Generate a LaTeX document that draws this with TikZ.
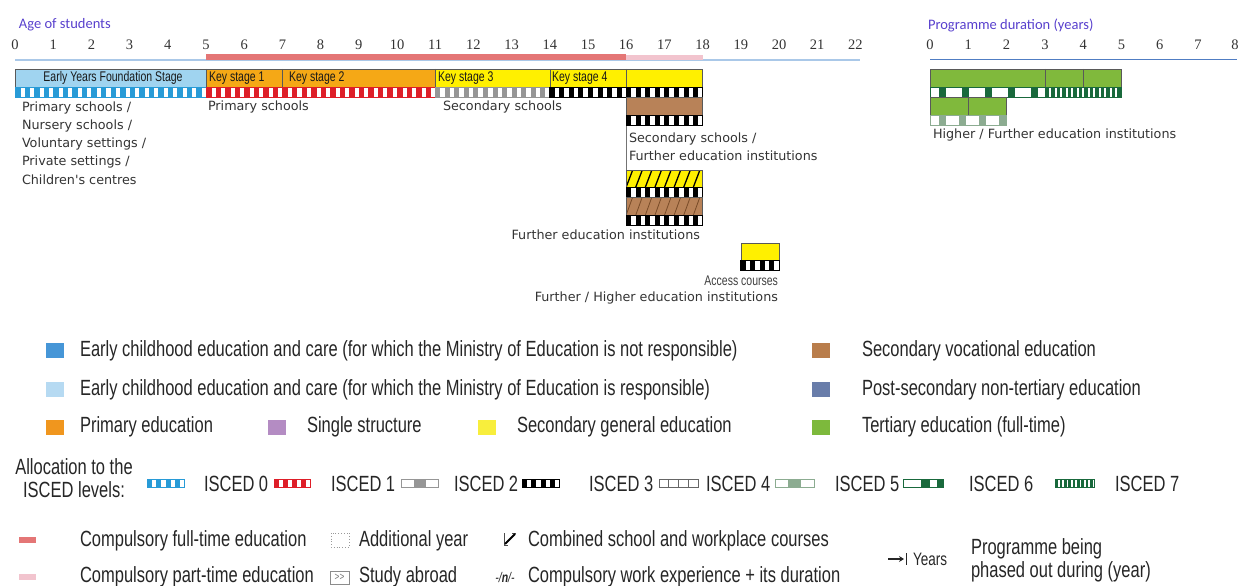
\documentclass[tikz,border=0pt]{standalone}
\usepackage{fontspec}
\setmainfont{DejaVu Sans}
\newfontfamily\schoolfont[Ligatures=TeXOff]{DejaVu Sans}
\newfontfamily\narrowfont[FakeStretch=0.75]{Liberation Sans}
\newfontfamily\calfont{Carlito}
\newfontfamily\numfont{Liberation Serif}
\usetikzlibrary{arrows.meta}
\definecolor{axispurple}{RGB}{88,64,205}
\definecolor{axisblue}{RGB}{170,200,232}
\definecolor{progblue}{RGB}{80,125,195}
\definecolor{compred}{RGB}{228,118,118}
\definecolor{comppink}{RGB}{242,196,206}
\definecolor{eyfs}{RGB}{160,212,240}
\definecolor{prim}{RGB}{245,168,22}
\definecolor{secgen}{RGB}{255,240,0}
\definecolor{voc}{RGB}{184,130,88}
\definecolor{vocline}{RGB}{120,75,40}
\definecolor{tert}{RGB}{128,185,60}
\definecolor{isczero}{RGB}{40,155,215}
\definecolor{iscone}{RGB}{222,30,40}
\definecolor{isctwo}{RGB}{150,150,150}
\definecolor{iscfive}{RGB}{140,172,145}
\definecolor{iscsix}{RGB}{25,105,60}
\definecolor{legA}{RGB}{70,150,215}
\definecolor{legB}{RGB}{182,218,242}
\definecolor{legC}{RGB}{240,150,30}
\definecolor{legD}{RGB}{180,140,195}
\definecolor{legE}{RGB}{248,238,60}
\definecolor{legF}{RGB}{185,125,75}
\definecolor{legG}{RGB}{105,125,170}
\definecolor{legH}{RGB}{125,185,60}
% checkered ISCED stripe: x1,x2,ytop,height,colour,period,block width,offset
\newcommand\chk[8]{%
  \begin{scope}
    \clip (#1,#3) rectangle (#2,#3+#4);
    \fill[white] (#1,#3) rectangle (#2,#3+#4);
    \pgfmathtruncatemacro\nk{(#2-#1)/#6+1}
    \foreach \k in {0,...,\nk}{\fill[#5] ({#1+#8+\k*#6},#3) rectangle ({#1+#8+\k*#6+#7},#3+#4);}
  \end{scope}
  \draw[#5,line width=0.8] (#1,#3) rectangle (#2,#3+#4);}
% hatching: x1,x2,ytop,height,colour,line width
\newcommand\hatchbox[6]{%
  \begin{scope}
    \clip (#1,#3) rectangle (#2,#3+#4);
    \foreach \k in {-1,...,9}{\draw[#5,line width=#6] ({#1+\k*9.6},#3+#4) -- ({#1+\k*9.6+6.5},#3);}
  \end{scope}}
\begin{document}
\begin{tikzpicture}[x=1pt,y=-1pt,every node/.style={inner sep=0pt,outer sep=0pt},
  ticklab/.style={font=\numfont\fontsize{14.5}{14.5}\selectfont,text=black!80},
  axtitle/.style={font=\calfont\fontsize{14.5}{15}\selectfont,text=axispurple,anchor=west},
  school/.style={font=\schoolfont\fontsize{12.75}{18.2}\selectfont,text=black!80,align=left},
  ksl/.style={font=\narrowfont\fontsize{14}{14}\selectfont,text=black!90},
  leg/.style={font=\narrowfont\fontsize{22}{23}\selectfont,text=black!85,anchor=west},
  barline/.style={draw=black!65,line width=0.6}]
\useasboundingbox (0,0) rectangle (1240,586);
% ---------- age axis ----------
\node[axtitle] (agetitle) at (19,25) {Age of students};
\foreach \k in {0,...,22}{\node[ticklab] (ta\k) at ({15+38.2*\k},45) {\k};}
\draw[axisblue,line width=2] (15,60.5) -- (860,60.5);
\fill[compred] (206,54) rectangle (626.2,60);
\fill[comppink] (626.2,55) rectangle (702.6,60);
% ---------- programme axis ----------
\node[axtitle] (progtitle) at (928,25) {Programme duration (years)};
\foreach \k in {0,...,7}{\node[ticklab] (tb\k) at ({930+38.3*\k},45) {\k};}
\node[ticklab] (tb8) at (1235,45) {8};
\draw[progblue,line width=0.9] (930,59) -- (1237,59);
% ---------- main bars ----------
\fill[eyfs] (15,69) rectangle (206,87);
\fill[prim] (206,69) rectangle (435.2,87);
\fill[secgen] (435.2,69) rectangle (702.6,87);
\draw[barline] (15,69) rectangle (702.6,87);
\foreach \xx in {206,282.4,435.2,549.8,626.2}{\draw[barline] (\xx,69) -- (\xx,87);}
\node[ksl] (eyfslab) at (113,78) {Early Years Foundation Stage};
\node[ksl,anchor=west] (ks1) at (209,78) {Key stage 1};
\node[ksl,anchor=west] (ks2) at (289,78) {Key stage 2};
\node[ksl,anchor=west] (ks3) at (438,78) {Key stage 3};
\node[ksl,anchor=west] (ks4) at (552,78) {Key stage 4};
\chk{15}{206}{87}{10}{isczero}{9.55}{5.5}{0}
\chk{206}{435.2}{87}{10}{iscone}{9.55}{5.5}{0}
\chk{435.2}{549.8}{87}{10}{isctwo}{9.55}{5}{0}
\chk{549.8}{702.6}{87}{10}{black}{9.55}{5}{0}
\node[school,anchor=west] (lab0) at (22,143) {Primary schools /\\Nursery schools /\\Voluntary settings /\\Private settings /\\Children's centres};
\node[school,anchor=west] (lab1) at (208,107) {Primary schools};
\node[school,anchor=west] (lab2) at (443,107) {Secondary schools};
% ---------- upper secondary / FE ----------
\draw[black!55,line width=0.6] (626.2,97) -- (626.2,225);
\fill[voc] (626.2,97) rectangle (702.6,115);
\draw[barline] (626.2,97) rectangle (702.6,115);
\chk{626.2}{702.6}{115}{10}{black}{9.55}{5}{0}
\node[school,anchor=west] (lab3) at (629,147) {Secondary schools /\\Further education institutions};
\fill[secgen] (626.2,170) rectangle (702.6,187);
\hatchbox{626.2}{702.6}{170}{17}{black}{1.3}
\draw[barline] (626.2,170) rectangle (702.6,187);
\chk{626.2}{702.6}{187}{10}{black}{9.55}{5}{0}
\fill[voc] (626.2,197) rectangle (702.6,215);
\hatchbox{626.2}{702.6}{197}{18}{vocline}{0.8}
\draw[barline] (626.2,197) rectangle (702.6,215);
\chk{626.2}{702.6}{215}{10}{black}{9.55}{5}{0}
\node[school,anchor=east] (lab4) at (700,235) {Further education institutions};
\fill[secgen] (740.8,243) rectangle (779,260);
\draw[barline] (740.8,243) rectangle (779,260);
\chk{740.8}{779}{260}{10}{black}{9.55}{5}{0}
\node[ksl,anchor=east,text=black!75] (acc) at (778,281) {Access courses};
\node[school,anchor=east] (lab5) at (778,298) {Further / Higher education institutions};
% ---------- tertiary ----------
\fill[tert] (930,69) rectangle (1121.5,87);
\draw[barline] (930,69) rectangle (1121.5,87);
\foreach \xx in {1044.9,1083.2}{\draw[barline] (\xx,69) -- (\xx,87);}
\chk{930}{1044.9}{87}{10}{iscsix}{23}{7}{9}
\chk{1044.9}{1121.5}{87}{10}{iscsix}{5.5}{3.5}{1}
\fill[tert] (930,97) rectangle (1006.6,115);
\draw[barline] (930,97) rectangle (1006.6,115);
\draw[barline] (968.3,97) -- (968.3,115);
\chk{930}{1006.6}{115}{10}{iscfive}{20}{7}{9}
\node[school,anchor=west] (lab6) at (933,135) {Higher / Further education institutions};
% ---------- legend: colours ----------
\fill[legA] (46,343) rectangle (64,358);
\node[leg] (lA) at (80,351) {Early childhood education and care (for which the Ministry of Education is not responsible)};
\fill[legB] (46,382) rectangle (64,397);
\node[leg] (lB) at (80,390) {Early childhood education and care (for which the Ministry of Education is responsible)};
\fill[legC] (46,420) rectangle (64,435);
\node[leg] (lC) at (80,427) {Primary education};
\fill[legD] (268,420) rectangle (286,435);
\node[leg] (lD) at (307,427) {Single structure};
\fill[legE] (478,420) rectangle (496,435);
\node[leg] (lE) at (517,427) {Secondary general education};
\fill[legF] (812,343) rectangle (830,358);
\node[leg] (lF) at (862,351) {Secondary vocational education};
\fill[legG] (812,382) rectangle (830,397);
\node[leg] (lG) at (862,390) {Post-secondary non-tertiary education};
\fill[legH] (812,420) rectangle (830,435);
\node[leg] (lH) at (862,427) {Tertiary education (full-time)};
% ---------- legend: ISCED ----------
\node[leg,anchor=center,align=center] (alloc) at (74,478) {Allocation to the\\ISCED levels:};
\chk{147}{184}{479}{8}{isczero}{9.25}{5}{0}
\node[leg] (i0) at (204,484) {ISCED 0};
\chk{274}{310}{479}{8}{iscone}{9}{5}{0}
\node[leg] (i1) at (331,484) {ISCED 1};
\fill[white] (401,479) rectangle (438,487);
\fill[isctwo] (414,479) rectangle (426,487);
\draw[isctwo,line width=0.8] (401,479) rectangle (438,487);
\node[leg] (i2) at (454,484) {ISCED 2};
\chk{522}{559}{479}{8}{black}{9.3}{5}{0}
\node[leg] (i3) at (589,484) {ISCED 3};
\fill[white] (659,479) rectangle (698,487);
\draw[black!60,line width=0.6] (659,479) rectangle (698,487);
\foreach \xx in {668.75,678.5,688.25}{\draw[black!60,line width=0.6] (\xx,479) -- (\xx,487);}
\node[leg] (i4) at (706,484) {ISCED 4};
\fill[white] (775,479) rectangle (814,487);
\fill[iscfive] (788,479) rectangle (801,487);
\draw[iscfive,line width=0.8] (775,479) rectangle (814,487);
\node[leg] (i5) at (835,484) {ISCED 5};
\fill[white] (903,479) rectangle (943,487);
\fill[iscsix] (921,479) rectangle (930,487);
\fill[iscsix] (937,479) rectangle (943,487);
\draw[iscsix,line width=0.8] (903,479) rectangle (943,487);
\node[leg] (i6) at (969,484) {ISCED 6};
\chk{1055}{1094}{479}{8}{iscsix}{4.3}{2.6}{0.5}
\node[leg] (i7) at (1115,484) {ISCED 7};
% ---------- legend: bottom ----------
\fill[compred] (19,537) rectangle (36,543);
\node[leg] (cft) at (80,541) {Compulsory full-time education};
\fill[comppink] (19,574) rectangle (36,580);
\node[leg] (cpt) at (80,577) {Compulsory part-time education};
\draw[black!40,dotted,line width=0.8] (331,533) rectangle (349,547);
\node[leg] (addy) at (359,541) {Additional year};
\draw[black!45,line width=0.5] (330,571) rectangle (349,584);
\node[font=\narrowfont\fontsize{11}{11}\selectfont,text=black!55] (ab) at (339.5,577.5) {>>};
\node[leg] (stab) at (359,577) {Study abroad};
\draw[black!70,line width=0.6] (504,533) -- (504,545) (516,533) -- (512,533) (504,545) -- (508,545);
\draw[black,line width=2] (505,544) -- (515,534);
\node[leg] (comb) at (528,541) {Combined school and workplace courses};
\node[font=\narrowfont\fontsize{14}{14}\selectfont\itshape,text=black!85] (wexp) at (505,577) {-/\textbf{n}/-};
\node[leg] (cwe) at (528,577) {Compulsory work experience + its duration};
\coordinate (arrA) at (888,559);
\coordinate (arrB) at (904,559);
\draw[black!85,line width=1.3,-{Stealth[length=5pt,width=6pt]}] (arrA) -- (arrB);
\draw[black!85,line width=1.1] (906.5,553) -- (906.5,565);
\node[leg,font=\narrowfont\fontsize{18}{18}\selectfont] (yrs) at (913,559) {Years};
\node[leg,align=left] (phase) at (971,560) {Programme being\\phased out during (year)};
\end{tikzpicture}
\end{document}
